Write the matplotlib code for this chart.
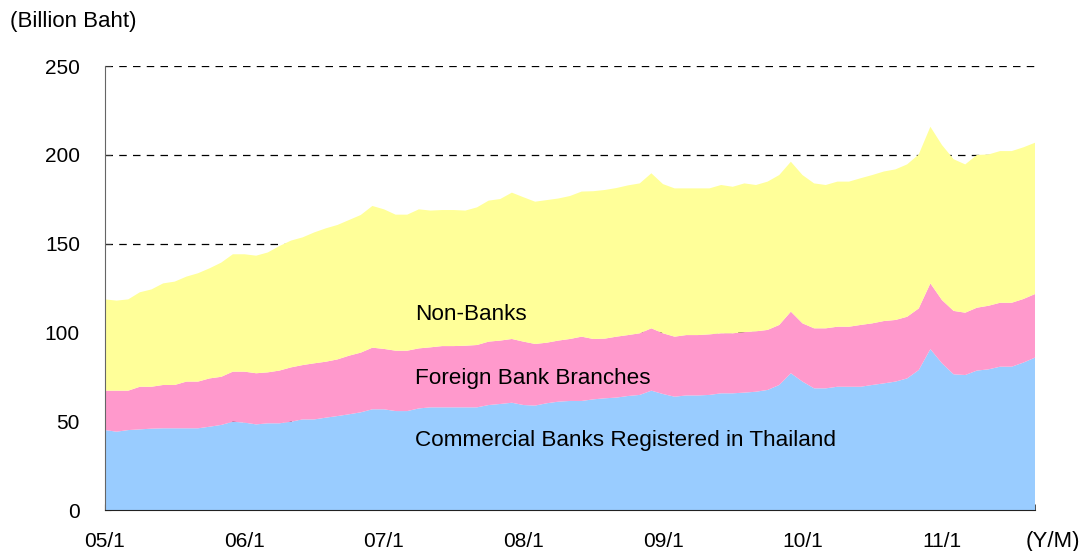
import matplotlib
matplotlib.use("Agg")
import matplotlib.pyplot as plt
import numpy as np

plt.rcParams['font.family'] = ['Liberation Sans', 'DejaVu Sans']

# Monthly series, Jan 2005 - Sep 2011 (billion baht)
months = [f"{y:02d}/{m}" for y in range(5, 12) for m in range(1, 13)][:81]

commercial = [45.0, 44.1, 45.0, 45.4, 45.8, 46.0, 46.0, 46.0, 46.0, 46.9, 47.9, 49.7,
              49.2, 48.2, 48.8, 48.8, 49.7, 51.0, 51.0, 52.0, 52.9, 53.9, 55.0, 56.7,
              56.7, 55.7, 55.7, 57.2, 57.8, 57.8, 57.8, 57.8, 57.8, 59.1, 59.7, 60.4,
              59.1, 58.8, 60.1, 61.0, 61.4, 61.4, 62.3, 62.9, 63.3, 64.2, 64.8, 67.2,
              65.3, 63.8, 64.5, 64.5, 64.8, 65.7, 65.7, 66.1, 66.6, 67.6, 70.4, 77.0,
              72.3, 68.5, 68.5, 69.4, 69.4, 69.4, 70.4, 71.3, 72.3, 74.1, 78.8, 90.6,
              82.6, 76.4, 76.0, 78.5, 79.2, 80.7, 80.7, 83.0, 85.8]

foreign = [22.2, 23.1, 22.2, 24.0, 23.6, 24.4, 24.4, 26.3, 26.3, 27.2, 27.1, 28.2,
           28.7, 28.8, 28.7, 29.7, 30.6, 30.6, 31.6, 31.5, 31.9, 33.0, 33.6, 34.7,
           34.0, 34.0, 34.0, 33.8, 33.8, 34.5, 34.5, 34.7, 35.1, 35.7, 35.7, 35.9,
           35.7, 34.7, 34.1, 34.4, 34.9, 36.2, 34.0, 33.6, 34.3, 34.3, 34.7, 35.1,
           34.2, 33.8, 34.0, 34.0, 34.1, 33.8, 33.8, 34.1, 34.0, 33.8, 33.8, 34.7,
           32.8, 33.8, 33.8, 33.8, 33.8, 34.8, 34.7, 35.1, 34.7, 34.7, 34.7, 37.0,
           35.6, 35.7, 35.1, 35.4, 35.8, 36.0, 36.0, 35.8, 35.8]

nonbanks = [51.4, 50.7, 51.4, 53.2, 54.8, 57.2, 58.2, 59.1, 61.0, 62.0, 64.3, 66.1,
            66.1, 66.2, 67.5, 70.1, 71.4, 71.9, 73.7, 75.1, 75.7, 76.4, 77.5, 79.8,
            78.6, 76.6, 76.6, 78.3, 77.0, 76.6, 76.6, 76.1, 77.5, 79.4, 79.7, 82.4,
            81.3, 80.1, 80.3, 80.0, 80.5, 81.7, 83.2, 83.7, 83.7, 84.3, 84.4, 87.3,
            84.0, 83.5, 82.6, 82.6, 82.2, 83.5, 82.5, 83.7, 82.4, 83.5, 84.4, 84.4,
            83.5, 81.6, 80.7, 81.7, 81.7, 82.6, 83.5, 84.2, 84.8, 85.8, 86.7, 88.2,
            87.3, 85.4, 83.5, 86.0, 85.2, 85.4, 85.4, 85.4, 85.2]

series_names = ["Commercial Banks Registered in Thailand", "Foreign Bank Branches", "Non-Banks"]
colors = ["#99CCFF", "#FF99CC", "#FFFF99"]

fig = plt.figure(figsize=(10.82, 5.51), dpi=100)
ax = fig.add_axes([105 / 1082, 41 / 551, 930 / 1082, 444 / 551])

x = np.arange(len(months))
ax.stackplot(x, commercial, foreign, nonbanks, colors=colors, linewidth=0, zorder=2)

ax.set_xlim(0, len(months) - 1)
ax.set_ylim(0, 250)
ax.set_yticks(range(0, 251, 50))

# dashed gridlines behind the areas
for v in (50, 100, 150, 200, 250):
    ax.axhline(v, color="black", lw=0.9, ls=(0, (6, 5)), zorder=1)

major = [i for i, m in enumerate(months) if m.endswith("/1")]
ax.set_xticks(major)
ax.set_xticklabels([months[i] for i in major])
ax.set_xticks(x, minor=True)

ax.tick_params(axis="y", direction="in", length=4, pad=18, labelsize=15, color="#333333")
ax.tick_params(axis="x", which="both", direction="in", length=4, pad=16, labelsize=15,
               color="#333333")

for side in ("top", "right"):
    ax.spines[side].set_visible(False)
ax.spines["left"].set_color("#666666")
ax.spines["bottom"].set_color("#222222")
ax.spines["bottom"].set_zorder(3)

label_x = 26.7
ax.text(label_x, 109.8, series_names[2], fontsize=16.2, va="center", ha="left", zorder=4)
ax.text(label_x, 74.3, series_names[1], fontsize=16.2, va="center", ha="left", zorder=4)
ax.text(label_x, 38.9, series_names[0], fontsize=16.2, va="center", ha="left", zorder=4)

fig.text(10 / 1082, 1 - 22 / 551, "(Billion Baht)", fontsize=16, va="center", ha="left")
fig.text(1080 / 1082, 1 - 541 / 551, "(Y/M)", fontsize=16, va="center", ha="right")

fig.savefig("out.png", dpi=100)
